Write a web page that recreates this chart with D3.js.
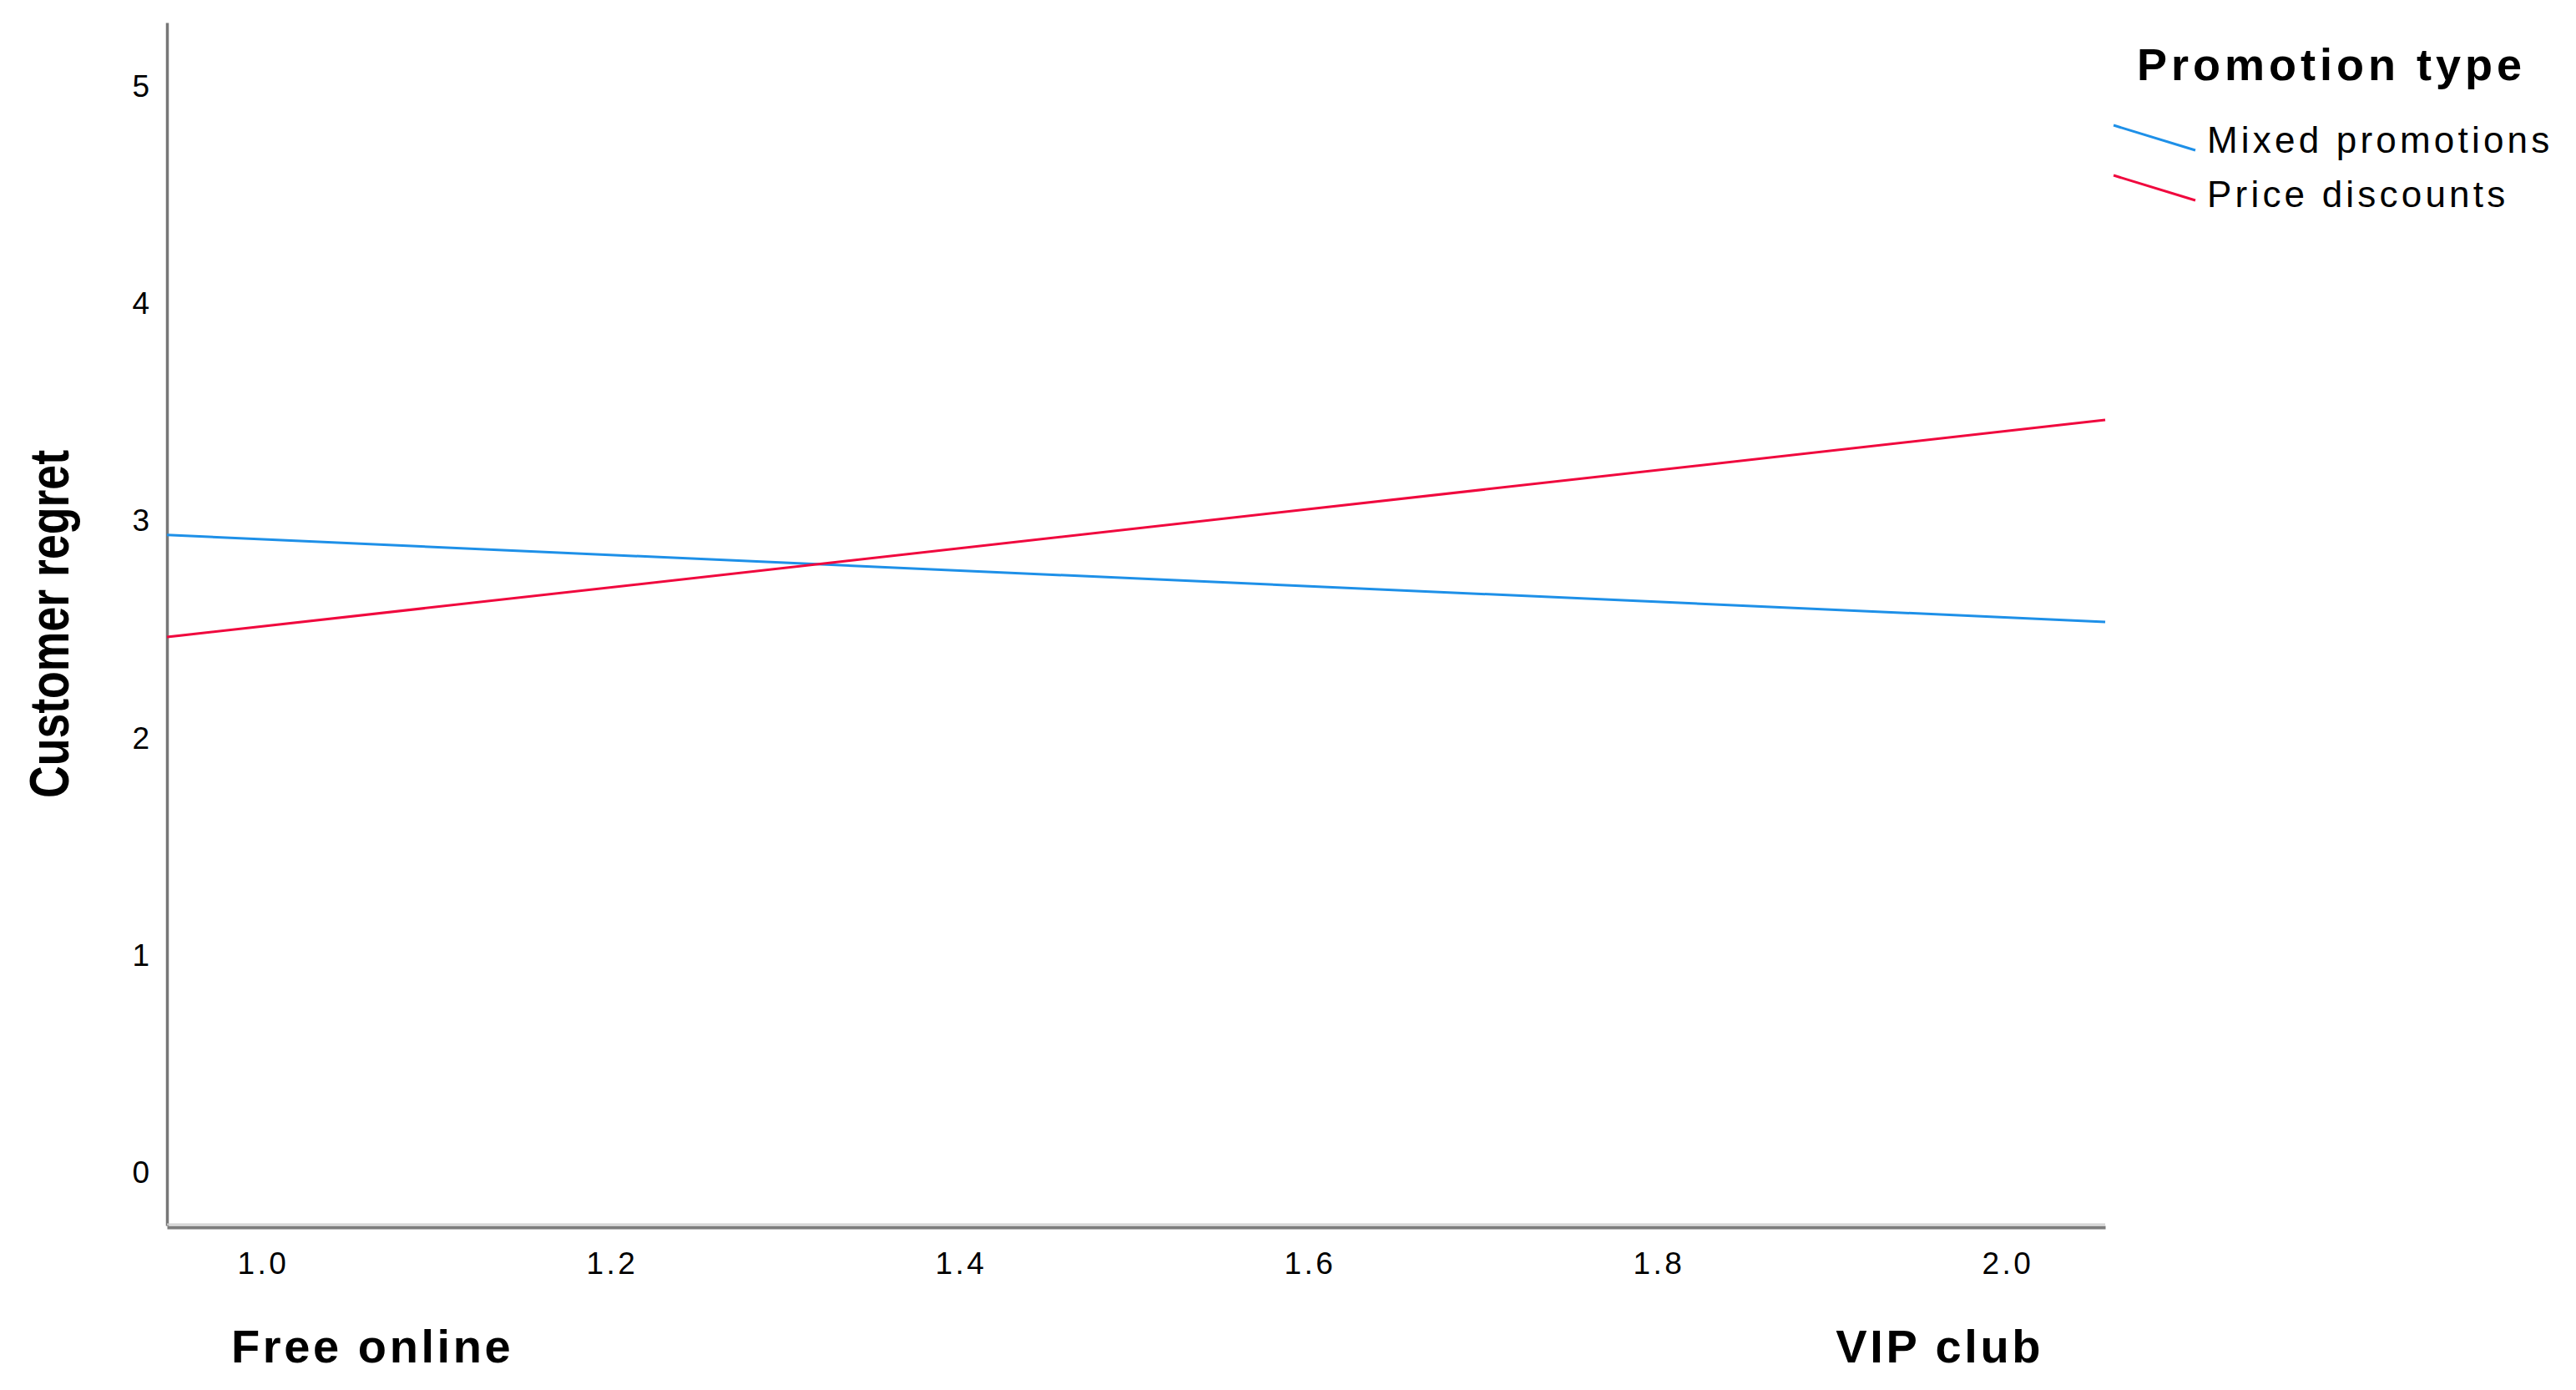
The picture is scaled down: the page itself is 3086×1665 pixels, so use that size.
<!DOCTYPE html>
<html>
<head>
<meta charset="utf-8">
<script src="https://d3js.org/d3.v7.min.js"></script>
<style>
  body { margin: 0; background: #fff; }
  text { font-family: "Liberation Sans", Arial, sans-serif; fill: #000; }
</style>
</head>
<body>
<svg id="svgChart"></svg>
<script>
// x values where the fit lines start and end (edges of the axis)
var xValues = [0.945, 2.056];
var seriesNames = ["Mixed promotions", "Price discounts"];
var mixedValues = [2.93, 2.53];
var priceValues = [2.46, 3.46];
var seriesColors = ["#1e90e8", "#f0083e"];
var yTicks = [0, 1, 2, 3, 4, 5];
var xTicks = [1.0, 1.2, 1.4, 1.6, 1.8, 2.0];
var groupLabels = ["Free online", "VIP club"];
var yTitle = "Customer regret";
var legendTitle = "Promotion type";

class Chart {
    constructor() {
        this.width = 3086;
        this.height = 1665;
        this.series = seriesNames.map(function(name, i) {
            var vals = i == 0 ? mixedValues : priceValues;
            return { name: name, color: seriesColors[i],
                     points: xValues.map(function(x, j) { return { x: x, y: vals[j] }; }) };
        });
        this.draw();
    }

    draw() {
        this.svg = d3.select("#svgChart")
            .attr("width", this.width)
            .attr("height", this.height);

        this.createScales();
        this.addAxes();
        this.addLines();
        this.addLegend();
    }

    createScales() {
        this.x = d3.scaleLinear().domain([xValues[0], xValues[1]]).range([200, 2522]);
        this.y = d3.scaleLinear().domain([-0.25, 5.29]).range([1468, 27]);
    }

    addAxes() {
        var x = this.x, y = this.y;

        // y axis, no tick marks
        var yAxis = d3.axisLeft(y).tickValues(yTicks).tickSize(0).tickPadding(21)
            .tickFormat(d3.format("d"));
        var gy = this.svg.append("g")
            .attr("transform", "translate(" + x.range()[0] + ",0)")
            .call(yAxis);
        gy.select(".domain").attr("stroke", "#777").attr("stroke-width", 3.5);
        gy.selectAll("text")
            .style("font-size", "37px")
            .attr("dy", "0.36em");

        // x axis
        var xAxis = d3.axisBottom(x).tickValues(xTicks).tickSize(0).tickPadding(30)
            .tickFormat(d3.format(".1f"));
        var gx = this.svg.append("g")
            .attr("transform", "translate(0," + (y.range()[0] + 2) + ")")
            .call(xAxis);
        gx.select(".domain").attr("stroke", "#7d7d7d").attr("stroke-width", 4);
        gx.selectAll("text")
            .style("font-size", "37px")
            .style("letter-spacing", "3.5px");
        // light edge on top of the x axis
        this.svg.append("line")
            .attr("x1", x.range()[0]).attr("x2", x.range()[1])
            .attr("y1", y.range()[0] - 1.5).attr("y2", y.range()[0] - 1.5)
            .attr("stroke", "#cfcfcf").attr("stroke-width", 2);

        // y title
        var yMid = (y.range()[0] + y.range()[1]) / 2;
        this.svg.append("text")
            .attr("transform", "translate(82," + yMid + ") rotate(-90)")
            .attr("text-anchor", "middle")
            .attr("textLength", 417)
            .attr("lengthAdjust", "spacingAndGlyphs")
            .style("font-size", "66px")
            .style("font-weight", "bold")
            .text(yTitle);

        // group labels under the axis
        var inset = 77;
        this.svg.append("text")
            .attr("x", x.range()[0] + inset)
            .attr("y", 1632)
            .style("font-size", "56px")
            .style("font-weight", "bold")
            .style("letter-spacing", "3.6px")
            .text(groupLabels[0]);
        this.svg.append("text")
            .attr("x", x.range()[1] - inset + 3)
            .attr("y", 1632)
            .attr("text-anchor", "end")
            .style("font-size", "56px")
            .style("font-weight", "bold")
            .style("letter-spacing", "3.6px")
            .text(groupLabels[1]);
    }

    addLines() {
        var x = this.x, y = this.y;
        var line = d3.line()
            .x(function(d) { return x(d.x); })
            .y(function(d) { return y(d.y); });

        this.svg.selectAll(".fit")
            .data(this.series)
            .enter()
            .append("path")
            .attr("class", "fit")
            .attr("fill", "none")
            .attr("stroke", function(d) { return d.color; })
            .attr("stroke-width", 3)
            .attr("d", function(d) { return line(d.points); });
    }

    addLegend() {
        var lg = this.svg.append("g");

        lg.append("text")
            .attr("x", 2560)
            .attr("y", 96)
            .style("font-size", "54px")
            .style("font-weight", "bold")
            .style("letter-spacing", "5px")
            .text(legendTitle);

        var rows = lg.selectAll(".item")
            .data(this.series)
            .enter()
            .append("g")
            .attr("class", "item")
            .attr("transform", function(d, i) { return "translate(0," + (i * 60) + ")"; });

        // slanted sample line like spss
        rows.append("line")
            .attr("x1", 2532).attr("y1", 150)
            .attr("x2", 2630).attr("y2", 180)
            .attr("stroke", function(d) { return d.color; })
            .attr("stroke-width", 3);

        rows.append("text")
            .attr("x", 2644)
            .attr("y", function(d, i) { return i == 0 ? 183 : 188; })
            .style("font-size", "44px")
            .style("letter-spacing", "4.2px")
            .text(function(d) { return d.name; });
    }
}

new Chart();
</script>
</body>
</html>
